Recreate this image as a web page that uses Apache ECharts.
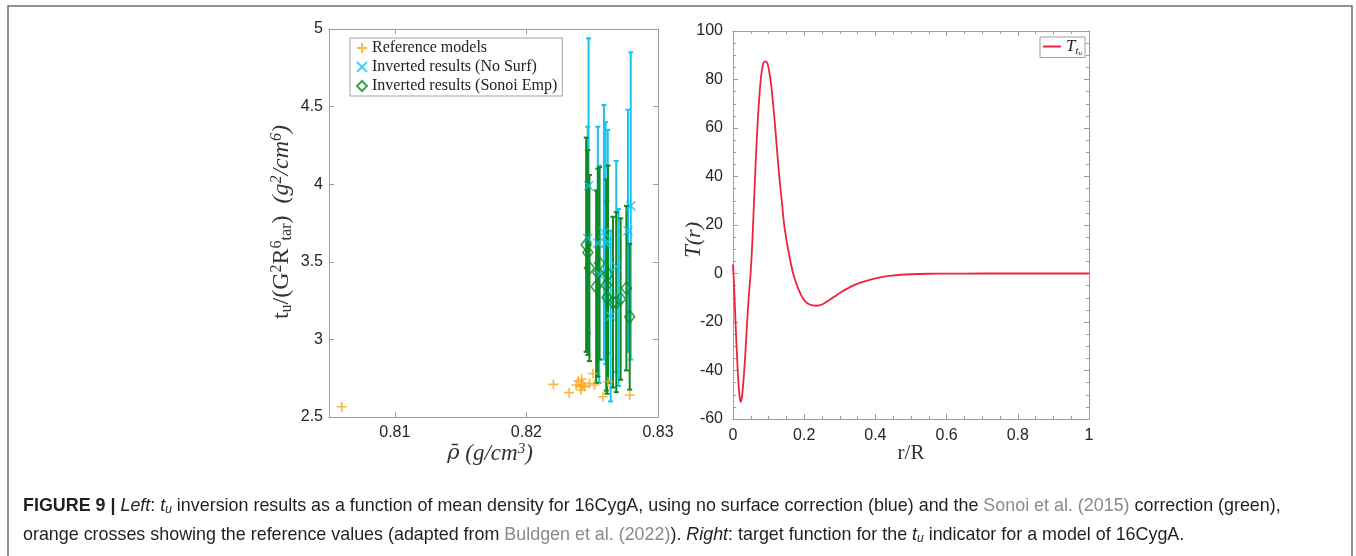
<!DOCTYPE html>
<html>
<head>
<meta charset="utf-8">
<script src="https://cdn.jsdelivr.net/npm/echarts@6/dist/echarts.min.js"></script>
<style>
html, body { margin: 0; padding: 0; background: #fff; }
#chart { width: 1356px; height: 556px; }
</style>
</head>
<body>
<div id="chart"></div>
<script>
// reference models (orange crosses)
var refX = [0.80597, 0.82205, 0.82325, 0.82378, 0.82395, 0.82411, 0.82416, 0.82420, 0.82429, 0.82441, 0.82479, 0.82505, 0.82518, 0.82582, 0.82620, 0.82785];
var refY = [2.566, 2.710, 2.657, 2.706, 2.732, 2.696, 2.674, 2.745, 2.706, 2.696, 2.717, 2.780, 2.706, 2.630, 2.727, 2.642];

// inverted results, no surface correction (blue)
var noSurfX = [0.82472, 0.82466, 0.82543, 0.82553, 0.82589, 0.82602, 0.82618, 0.82640, 0.82683, 0.82700, 0.82772, 0.82793];
var noSurfY = [3.99, 3.65, 3.62, 3.42, 3.69, 3.62, 3.63, 3.15, 3.47, 3.27, 3.70, 3.86];
var noSurfErr = [0.95, 0.72, 0.75, 0.70, 0.82, 0.78, 0.72, 0.55, 0.68, 0.57, 0.78, 0.99];

// inverted results, Sonoi empirical correction (green)
var sonoiX = [0.82454, 0.82467, 0.82479, 0.82530, 0.82543, 0.82556, 0.82607, 0.82612, 0.82620, 0.82658, 0.82683, 0.82716, 0.82760, 0.82785];
var sonoiY = [3.61, 3.56, 3.46, 3.34, 3.43, 3.49, 3.35, 3.27, 3.42, 3.24, 3.24, 3.26, 3.33, 3.146];
var sonoiErr = [0.69, 0.66, 0.60, 0.62, 0.67, 0.62, 0.68, 0.62, 0.70, 0.55, 0.58, 0.52, 0.53, 0.47];

// target function T_tu(r)
var rR = [0, 0.003, 0.006, 0.010, 0.014, 0.018, 0.0215, 0.025, 0.029, 0.033, 0.037, 0.041, 0.045, 0.0495, 0.054, 0.058, 0.062, 0.066, 0.070, 0.074, 0.078, 0.082, 0.086, 0.0918, 0.097, 0.102, 0.107, 0.112, 0.117, 0.122, 0.127, 0.132, 0.137, 0.143, 0.150, 0.160, 0.169, 0.180, 0.190, 0.200, 0.215, 0.234, 0.250, 0.270, 0.300, 0.330, 0.360, 0.400, 0.450, 0.500, 0.550, 0.600, 0.700, 0.800, 0.900, 1.000];
var targetT = [3.7, -5, -16, -30, -42, -50, -53, -51, -45, -37, -27, -17, -8, 0, 12, 26, 40, 53, 64, 73, 80, 84.5, 87, 87.5, 86.5, 83, 78, 71, 63, 54, 45, 37, 30, 21, 14, 6, 0, -5, -8.5, -11, -12.8, -13.3, -12.8, -11, -8, -5.5, -3.7, -2, -0.8, -0.3, -0.1, -0.05, 0, 0, 0, 0];

var leftXTicks = [0.81, 0.82, 0.83];
var topXTicks = [0.81, 0.82];

var ORANGE = '#ffa214';
var BLUE = '#19c2f0';
var GREEN = '#0e8a24';
var RED = '#ee2340';
var BOX = '#9c9c9c';
var SERIF = 'Liberation Serif';
var SANS = 'Liberation Sans';
var INK = '#231f20';
var LINK = '#8a8a8a';

function pairs(xs, ys) {
    var out = [];
    for (var i = 0; i < xs.length; i++) {
        out.push([xs[i], ys[i]]);
    }
    return out;
}

function errRows(xs, ys, es) {
    var out = [];
    for (var i = 0; i < xs.length; i++) {
        out.push([xs[i], ys[i] - es[i], ys[i] + es[i]]);
    }
    return out;
}

// vertical error bar with small caps
function errorBar(color) {
    return function (params, api) {
        var x = api.value(0);
        var lo = api.coord([x, api.value(1)]);
        var hi = api.coord([x, api.value(2)]);
        var cap = 2.5;
        var st = { stroke: color, lineWidth: 2 };
        return {
            type: 'group',
            children: [
                { type: 'line', shape: { x1: lo[0], y1: lo[1], x2: hi[0], y2: hi[1] }, style: st },
                { type: 'line', shape: { x1: lo[0] - cap, y1: lo[1], x2: lo[0] + cap, y2: lo[1] }, style: st },
                { type: 'line', shape: { x1: hi[0] - cap, y1: hi[1], x2: hi[0] + cap, y2: hi[1] }, style: st }
            ]
        };
    };
}

function boxAxis(grid, pos, extra) {
    var a = {
        gridIndex: grid,
        type: 'value',
        position: pos,
        axisLine: { show: true, onZero: false, lineStyle: { color: BOX, width: 1 } },
        axisTick: { show: true, inside: true, length: 5, lineStyle: { color: BOX } },
        axisLabel: { show: false },
        splitLine: { show: false }
    };
    for (var k in extra) a[k] = extra[k];
    return a;
}

var tickFont = { fontFamily: SANS, fontSize: 16, color: '#262626' };

var chart = echarts.init(document.getElementById('chart'));

var option = {
    animation: false,
    backgroundColor: '#fff',
    grid: [
        { left: 329, top: 29, width: 329, height: 388 },
        { left: 733, top: 31, width: 356, height: 388 }
    ],
    xAxis: [
        boxAxis(0, 'bottom', {
            min: 0.805, max: 0.83,
            axisTick: { show: true, inside: true, length: 5, customValues: leftXTicks, lineStyle: { color: BOX } },
            axisLabel: Object.assign({ show: true, margin: 8, customValues: leftXTicks, formatter: function (v) { return v.toFixed(2); } }, tickFont)
        }),
        boxAxis(0, 'top', {
            min: 0.805, max: 0.83,
            axisTick: { show: true, inside: true, length: 5, customValues: topXTicks, lineStyle: { color: BOX } }
        }),
        boxAxis(1, 'bottom', {
            min: 0, max: 1, interval: 0.2,
            minorTick: { show: true, splitNumber: 4, length: 3, lineStyle: { color: BOX } },
            axisLabel: Object.assign({ show: true, margin: 9 }, tickFont)
        }),
        boxAxis(1, 'top', {
            min: 0, max: 1, interval: 0.2,
            minorTick: { show: true, splitNumber: 4, length: 3, lineStyle: { color: BOX } }
        })
    ],
    yAxis: [
        boxAxis(0, 'left', {
            min: 2.5, max: 5, interval: 0.5,
            axisLabel: Object.assign({ show: true, margin: 6 }, tickFont)
        }),
        boxAxis(0, 'right', { min: 2.5, max: 5, interval: 0.5 }),
        boxAxis(1, 'left', {
            min: -60, max: 100, interval: 20,
            minorTick: { show: true, splitNumber: 4, length: 3, lineStyle: { color: BOX } },
            axisLabel: Object.assign({ show: true, margin: 10 }, tickFont)
        }),
        boxAxis(1, 'right', {
            min: -60, max: 100, interval: 20,
            minorTick: { show: true, splitNumber: 4, length: 3, lineStyle: { color: BOX } }
        })
    ],
    legend: [
        {
            data: ['Reference models', 'Inverted results (No Surf)', 'Inverted results (Sonoi Emp)'],
            orient: 'vertical',
            left: 350, top: 38,
            itemWidth: 10, itemHeight: 10, itemGap: 3,
            padding: [2, 5, 2, 6],
            borderColor: '#a0a0a0', borderWidth: 1, borderRadius: 0,
            backgroundColor: '#fff',
            textStyle: { fontFamily: SERIF, fontSize: 16, color: '#222' }
        },
        {
            data: [{ name: 'Ttu', icon: 'rect' }],
            left: 1040, top: 37,
            itemWidth: 18, itemHeight: 2,
            padding: [1, 3, 1, 3],
            borderColor: '#a0a0a0', borderWidth: 1, borderRadius: 0,
            backgroundColor: '#fff',
            formatter: function () { return '{t|T}{s|t}{ss|u}'; },
            textStyle: {
                color: '#222',
                rich: {
                    t: { fontFamily: SERIF, fontStyle: 'italic', fontSize: 17 },
                    s: { fontFamily: SERIF, fontStyle: 'italic', fontSize: 11, padding: [9, 0, 0, 0] },
                    ss: { fontFamily: SERIF, fontStyle: 'italic', fontSize: 7, padding: [13, 0, 0, 0] }
                }
            }
        }
    ],
    series: [
        {
            name: 'Reference models',
            type: 'scatter',
            xAxisIndex: 0, yAxisIndex: 0,
            data: pairs(refX, refY),
            symbol: 'path://M5,0L5,10M0,5L10,5',
            symbolSize: 10,
            itemStyle: { color: 'transparent', borderColor: ORANGE, borderWidth: 1.6 }
        },
        {
            name: 'noSurfBars',
            type: 'custom',
            xAxisIndex: 0, yAxisIndex: 0,
            renderItem: errorBar(BLUE),
            encode: { x: 0, y: [1, 2] },
            data: errRows(noSurfX, noSurfY, noSurfErr)
        },
        {
            name: 'Inverted results (No Surf)',
            type: 'scatter',
            xAxisIndex: 0, yAxisIndex: 0,
            data: pairs(noSurfX, noSurfY),
            symbol: 'path://M0,0L10,10M10,0L0,10',
            symbolSize: 9,
            itemStyle: { color: 'transparent', borderColor: BLUE, borderWidth: 1.6 }
        },
        {
            name: 'sonoiBars',
            type: 'custom',
            xAxisIndex: 0, yAxisIndex: 0,
            renderItem: errorBar(GREEN),
            encode: { x: 0, y: [1, 2] },
            data: errRows(sonoiX, sonoiY, sonoiErr)
        },
        {
            name: 'Inverted results (Sonoi Emp)',
            type: 'scatter',
            xAxisIndex: 0, yAxisIndex: 0,
            data: pairs(sonoiX, sonoiY),
            symbol: 'diamond',
            symbolSize: [10, 13],
            itemStyle: { color: 'transparent', borderColor: GREEN, borderWidth: 1.6 }
        },
        {
            name: 'Ttu',
            type: 'line',
            xAxisIndex: 2, yAxisIndex: 2,
            data: pairs(rR, targetT),
            showSymbol: false,
            symbol: 'none',
            smooth: 0.25,
            lineStyle: { color: RED, width: 1.8 },
            itemStyle: { color: RED }
        }
    ],
    graphic: [
        // figure frame
        {
            type: 'rect', silent: true, z: 100,
            shape: { x: 8, y: 6, width: 1344, height: 600 },
            style: { fill: null, stroke: '#6e6e6e', lineWidth: 1.5 }
        },
        // left y axis name
        {
            type: 'text', x: 282, y: 222, rotation: Math.PI / 2,
            style: {
                text: 't{sub|u}/(G{sup|2}R{sup|6}{sub|tar})  {it|(g}{isup|2}{it|/cm}{isup|6}{it|)}',
                align: 'center', verticalAlign: 'middle',
                font: '24px "Liberation Serif"', fill: '#333',
                rich: {
                    sub: { fontFamily: SERIF, fontSize: 16, padding: [10, 0, 0, 0] },
                    sup: { fontFamily: SERIF, fontSize: 16, padding: [0, 0, 10, 0] },
                    it: { fontFamily: SERIF, fontStyle: 'italic', fontSize: 24 },
                    isup: { fontFamily: SERIF, fontStyle: 'italic', fontSize: 16, padding: [0, 0, 10, 0] }
                }
            }
        },
        // left x axis name
        {
            type: 'text', x: 490, y: 454,
            style: {
                text: '{rho|\u03c1\u0304}{it| (g/cm}{isup|3}{it|)}',
                align: 'center', verticalAlign: 'middle',
                fill: '#333',
                rich: {
                    rho: { fontFamily: 'DejaVu Serif', fontStyle: 'italic', fontSize: 21 },
                    it: { fontFamily: SERIF, fontStyle: 'italic', fontSize: 23 },
                    isup: { fontFamily: SERIF, fontStyle: 'italic', fontSize: 15, padding: [0, 0, 10, 0] }
                }
            }
        },
        // right y axis name
        {
            type: 'text', x: 694, y: 240, rotation: Math.PI / 2,
            style: {
                text: '{it|T}(r)',
                align: 'center', verticalAlign: 'middle',
                font: 'italic 22px "Liberation Serif"', fill: '#333',
                rich: { it: { fontFamily: SERIF, fontStyle: 'italic', fontSize: 23 } }
            }
        },
        // right x axis name
        {
            type: 'text', x: 911, y: 453,
            style: {
                text: 'r/R',
                align: 'center', verticalAlign: 'middle',
                font: '21px "Liberation Serif"', fill: '#333'
            }
        },
        // caption
        {
            type: 'text', x: 23, y: 506,
            style: {
                text: '{b|FIGURE 9 | }{i|Left}: {i|t}{isub|u} inversion results as a function of mean density for 16CygA, using no surface correction (blue) and the {g|Sonoi et al. (2015)} correction (green),',
                verticalAlign: 'middle',
                font: '17.9px "Liberation Sans"', fill: INK,
                rich: {
                    b: { fontFamily: SANS, fontWeight: 'bold', fontSize: 17.9, fill: INK },
                    i: { fontFamily: SANS, fontStyle: 'italic', fontSize: 17.9, fill: INK },
                    isub: { fontFamily: SANS, fontStyle: 'italic', fontSize: 12, fill: INK, padding: [8, 0, 0, 0] },
                    g: { fontFamily: SANS, fontSize: 17.9, fill: LINK }
                }
            }
        },
        {
            type: 'text', x: 23, y: 535,
            style: {
                text: 'orange crosses showing the reference values (adapted from {g|Buldgen et al. (2022)}). {i|Right}: target function for the {i|t}{isub|u} indicator for a model of 16CygA.',
                verticalAlign: 'middle',
                font: '17.9px "Liberation Sans"', fill: INK,
                rich: {
                    i: { fontFamily: SANS, fontStyle: 'italic', fontSize: 17.9, fill: INK },
                    isub: { fontFamily: SANS, fontStyle: 'italic', fontSize: 12, fill: INK, padding: [8, 0, 0, 0] },
                    g: { fontFamily: SANS, fontSize: 17.9, fill: LINK }
                }
            }
        }
    ]
};

chart.setOption(option);
</script>
</body>
</html>
